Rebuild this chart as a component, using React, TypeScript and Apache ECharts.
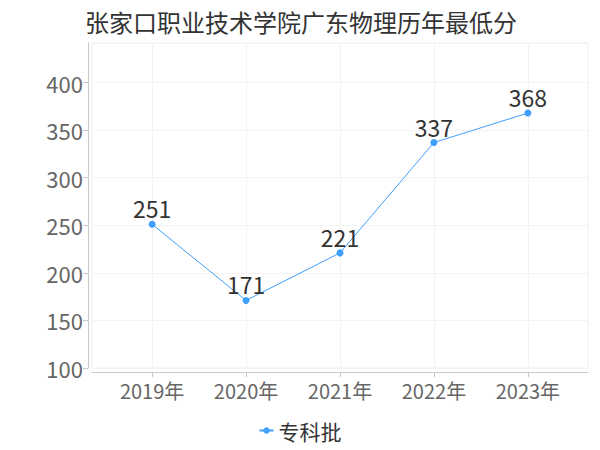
import React, { useEffect, useRef } from "react";
import * as echarts from "echarts";

const titleText = "张家口职业技术学院广东物理历年最低分";
const years = ["2019年", "2020年", "2021年", "2022年", "2023年"];
const seriesName = "专科批";
const scores = [251, 171, 221, 337, 368];
const yTicks = [100, 150, 200, 250, 300, 350, 400];

export default function App() {
  const ref = useRef<HTMLDivElement>(null);
  useEffect(() => {
    if (!ref.current) return;
    const chart = echarts.init(ref.current, null, { renderer: "svg" });
    const font = "'Noto Sans CJK SC', sans-serif";
    const idx = years.map((_, i) => i);
    chart.setOption({
      animation: false,
      textStyle: { fontFamily: font },
      title: {
        text: titleText,
        left: 80,
        top: 4,
        textStyle: { fontSize: 24, fontWeight: "normal", color: "#333", fontFamily: font },
      },
      legend: {
        bottom: 4,
        left: "center",
        itemWidth: 14,
        itemHeight: 8,
        textStyle: { fontSize: 21, color: "#333", fontFamily: font },
        data: [seriesName],
      },
      grid: {
        left: 92,
        right: 12,
        top: 43,
        bottom: 82,
        show: true,
        borderColor: "#f0f0f0",
        borderWidth: 1,
      },
      xAxis: {
        type: "value",
        min: -0.64,
        max: 4.64,
        offset: 4,
        axisLine: { show: true, onZero: false, lineStyle: { color: "#c8c8c8" } },
        axisTick: { show: true, customValues: idx, length: 5, lineStyle: { color: "#c8c8c8" } },
        axisLabel: {
          customValues: idx,
          formatter: (v: number) => years[Math.round(v)] ?? "",
          fontSize: 20,
          color: "#666",
          margin: 8,
          fontFamily: font,
        },
        splitLine: { show: true, lineStyle: { color: "#f3f3f3" } },
      },
      yAxis: {
        type: "value",
        min: yTicks[0],
        max: 441.6,
        interval: 50,
        offset: 4,
        axisLine: { show: true, onZero: false, lineStyle: { color: "#c8c8c8" } },
        axisTick: { show: true, length: 5, lineStyle: { color: "#c8c8c8" } },
        axisLabel: { fontSize: 22, color: "#666", showMaxLabel: false, margin: 5, fontFamily: font },
        splitLine: { show: true, lineStyle: { color: "#f3f3f3" } },
      },
      series: [
        {
          name: seriesName,
          type: "line",
          data: scores.map((v, i) => [i, v]),
          symbol: "circle",
          symbolSize: 7,
          itemStyle: { color: "#3f9ffc" },
          lineStyle: { width: 1, color: "#3f9ffc" },
          label: {
            show: true,
            position: "top",
            fontSize: 23,
            color: "#333",
            distance: 1,
            fontFamily: font,
            formatter: (p: any) => String(p.value[1]),
          },
        },
      ],
    });
    return () => chart.dispose();
  }, []);
  return (
    <div
      ref={ref}
      style={{ position: "absolute", left: 0, top: 0, width: 600, height: 450 }}
    />
  );
}
